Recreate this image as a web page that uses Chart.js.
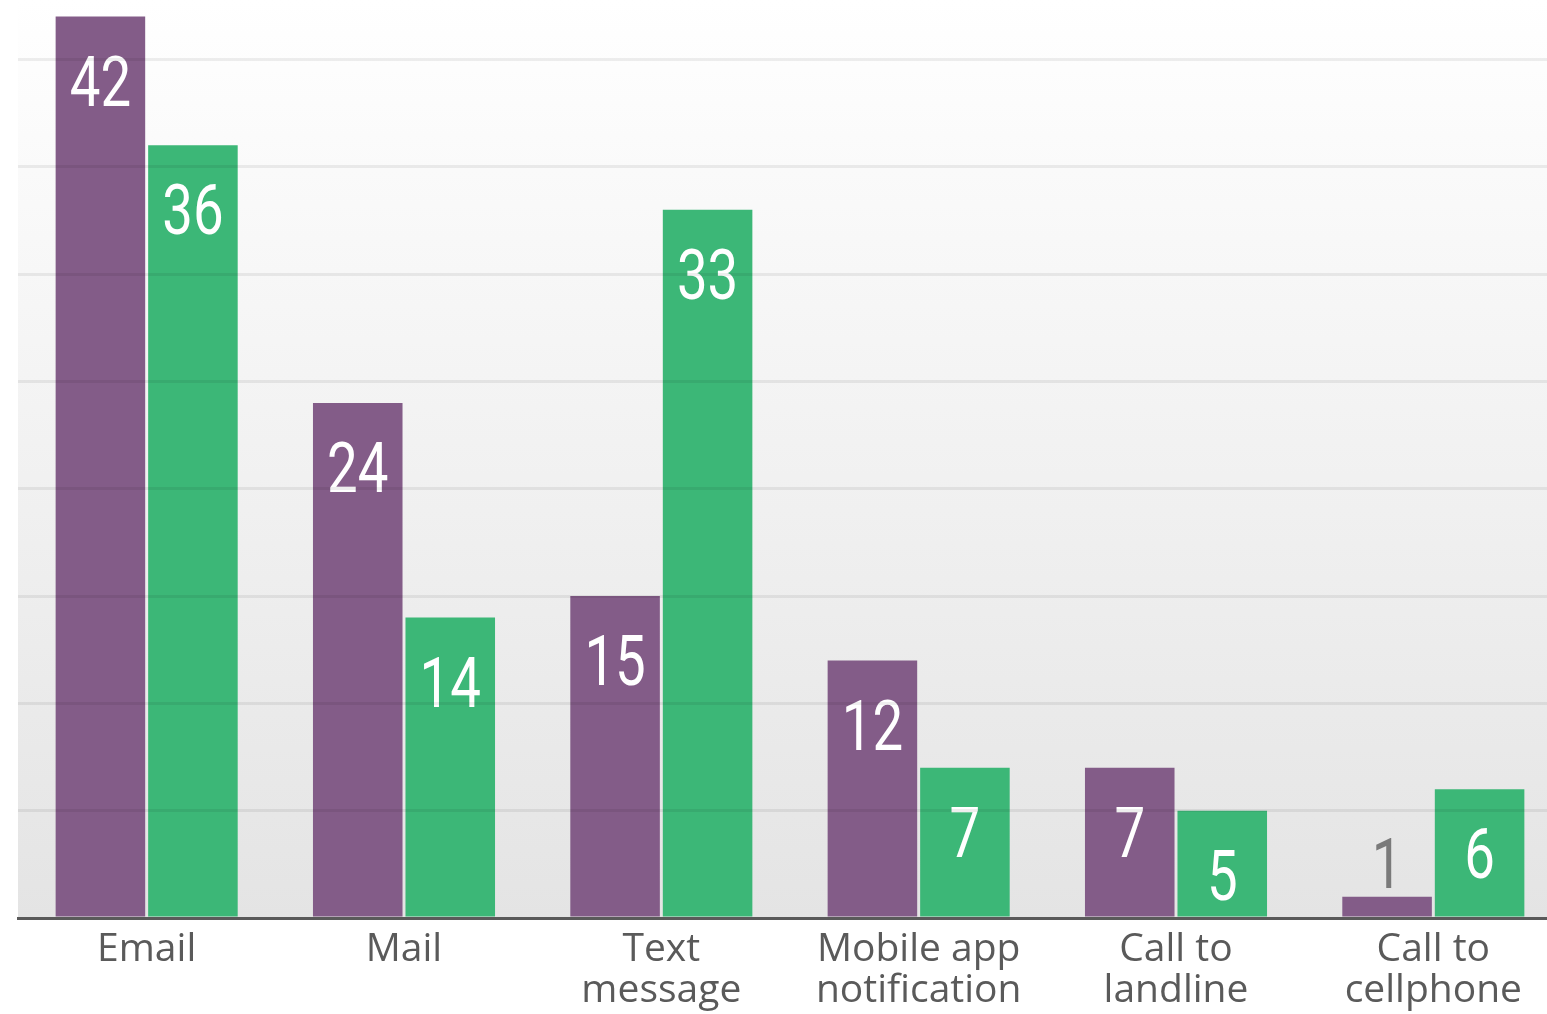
<!DOCTYPE html>
<html>
<head>
<meta charset="utf-8">
<script src="https://cdn.jsdelivr.net/npm/chart.js@4.4.1/dist/chart.umd.min.js"></script>
<style>
  html, body { margin: 0; padding: 0; background: #fff; overflow: hidden; }
  #wrap { width: 1562px; height: 1014px; }
</style>
</head>
<body>
<div id="wrap"><canvas id="grafico"></canvas></div>
<script>
// datos del gráfico
const categorias = [
    'Email',
    'Mail',
    ['Text', 'message'],
    ['Mobile app', 'notification'],
    ['Call to', 'landline'],
    ['Call to', 'cellphone']
];
const serieMorada = [42, 24, 15, 12, 7, 1];
const serieVerde = [36, 14, 33, 7, 5, 6];
const pasoGrid = 5; // líneas cada 5 unidades

const colorMorado = '#835c88';
const colorVerde = '#3cb777';

// fondo degradado detrás del área del gráfico
const fondoDegradado = {
    id: 'fondoDegradado',
    beforeDraw(chart) {
        const { ctx, chartArea } = chart;
        const g = ctx.createLinearGradient(0, 0, 0, chartArea.bottom);
        g.addColorStop(0, '#ffffff');
        g.addColorStop(1, '#e4e4e4');
        ctx.save();
        ctx.fillStyle = g;
        ctx.fillRect(chartArea.left, 0, chart.width - chartArea.left, chartArea.bottom);
        ctx.restore();
    }
};

// números sobre/dentro de las barras (fuente estrechada a mano)
const etiquetasBarras = {
    id: 'etiquetasBarras',
    afterDatasetsDraw(chart) {
        const { ctx } = chart;
        const estrecho = 0.78;
        chart.data.datasets.forEach((ds, i) => {
            chart.getDatasetMeta(i).data.forEach((bar, j) => {
                const v = ds.data[j];
                const dentro = v >= 3;
                ctx.save();
                ctx.translate(bar.x, dentro ? bar.y + 89 : bar.y - 9);
                ctx.scale(estrecho, 1);
                ctx.font = '70px Roboto, "Liberation Sans", sans-serif';
                ctx.textAlign = 'center';
                ctx.textBaseline = 'alphabetic';
                ctx.fillStyle = dentro ? '#ffffff' : '#7a7a7a';
                ctx.fillText(String(v), 0, 0);
                ctx.restore();
            });
        });
    }
};

new Chart(document.getElementById('grafico'), {
    type: 'bar',
    data: {
        labels: categorias,
        datasets: [
            { data: serieMorada, backgroundColor: colorMorado },
            { data: serieVerde, backgroundColor: colorVerde }
        ]
    },
    options: {
        responsive: true,
        maintainAspectRatio: false,
        animation: false,
        events: [],
        layout: { padding: { left: 18, right: 0, top: 15, bottom: 0 } },
        datasets: { bar: { categoryPercentage: 0.719, barPercentage: 0.968 } },
        plugins: { legend: { display: false }, tooltip: { enabled: false } },
        scales: {
            x: {
                grid: { display: false },
                border: { display: true, color: '#5a5a5a', width: 3 },
                ticks: {
                    color: '#5a5a5a',
                    font: { family: '"Open Sans", sans-serif', size: 39, lineHeight: 1.05 },
                    padding: 3,
                    maxRotation: 0,
                    autoSkip: false
                }
            },
            y: {
                min: 0,
                max: 42.07,
                afterFit: s => { s.width = 0; },
                ticks: { display: false, stepSize: pasoGrid },
                border: { display: false },
                grid: {
                    z: 1,
                    lineWidth: 3,
                    drawTicks: false,
                    color: c => (c.tick && c.tick.value > 0 && c.tick.value % pasoGrid === 0) ? 'rgba(0,0,0,0.065)' : 'rgba(0,0,0,0)'
                }
            }
        }
    },
    plugins: [fondoDegradado, etiquetasBarras]
});
</script>
</body>
</html>
